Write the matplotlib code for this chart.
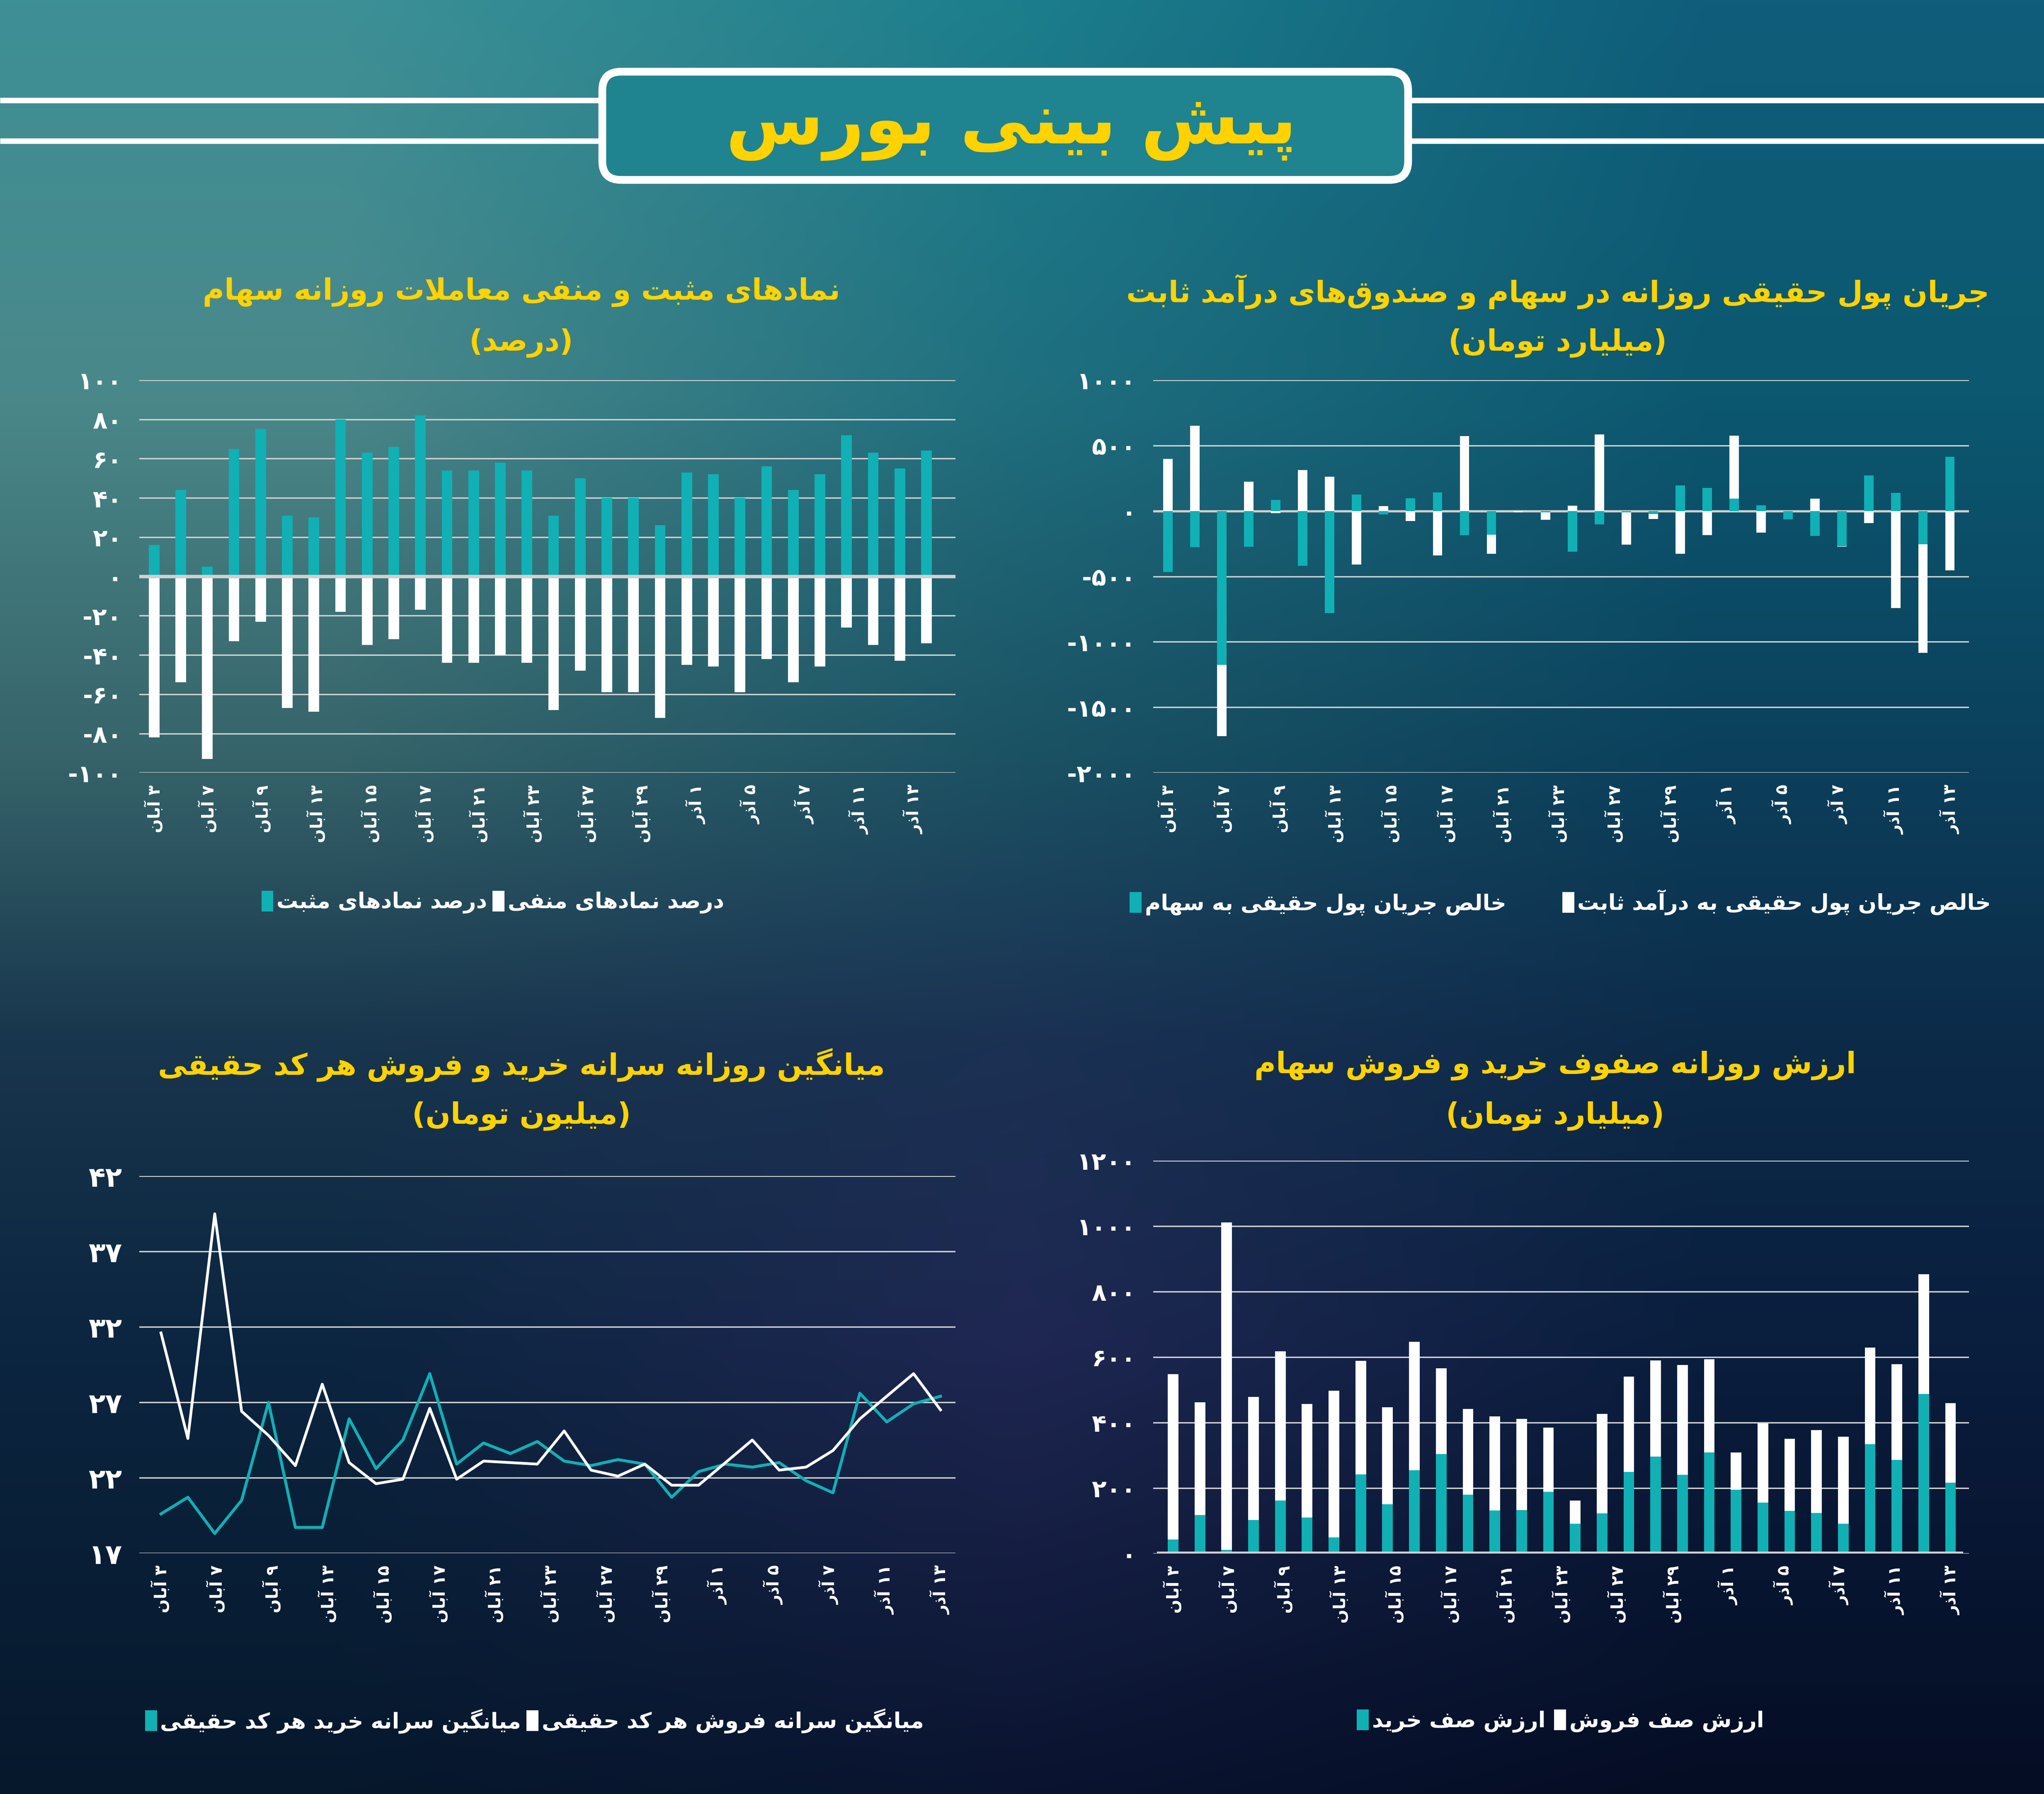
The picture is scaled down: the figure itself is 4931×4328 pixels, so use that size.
import re
import numpy as np
import matplotlib
matplotlib.use('Agg')
import matplotlib.pyplot as plt
from matplotlib.patches import FancyBboxPatch, Patch

# ---------------- data ----------------
tick_days = [3, 7, 9, 13, 15, 17, 21, 23, 27, 29, 1, 5, 7, 11, 13]
tick_months = ['آبان'] * 10 + ['آذر'] * 5

# chart 1: positive / negative symbols (percent)
positive_pct = [16, 44, 5, 65, 75, 31, 30, 80, 63, 66, 82, 54, 54, 58, 54,
                31, 50, 40, 40, 26, 53, 52, 40, 56, 44, 52, 72, 63, 55, 64]
negative_pct = [-82, -54, -93, -33, -23, -67, -69, -18, -35, -32, -17, -44, -44, -40, -44,
                -68, -48, -59, -59, -72, -45, -46, -59, -42, -54, -46, -26, -35, -43, -34]

# chart 2: real money flow (billion toman)
flow_stocks = [-467, -277, -1176, -272, 83, -420, -781, 127, -27, 96, 143, -185, -182, 0, -10,
               -312, -102, -12, -22, 194, 177, 94, 44, -65, -190, -270, 270, 138, -254, 415]
flow_fixed = [397, 652, -543, 225, -18, 312, 261, -408, 38, -78, -339, 571, -146, -11, -58,
              40, 585, -247, -39, -328, -185, 482, -166, 0, 95, -3, -94, -743, -829, -455]

# chart 3: average per-capita buy / sell (million toman)
avg_buy = [19.6, 20.7, 18.3, 20.5, 27.0, 18.7, 18.7, 25.9, 22.6, 24.5, 28.9, 22.9, 24.3, 23.6, 24.4,
           23.1, 22.8, 23.2, 22.9, 20.7, 22.4, 22.9, 22.7, 23.0, 21.8, 21.0, 27.6, 25.7, 26.9, 27.4]
avg_sell = [31.6, 24.6, 39.5, 26.4, 24.8, 22.8, 28.2, 23.0, 21.6, 21.9, 26.6, 21.9, 23.1, 23.0, 22.9,
            25.1, 22.5, 22.1, 22.9, 21.5, 21.5, 23.0, 24.5, 22.5, 22.7, 23.8, 25.9, 27.4, 28.9, 26.5]

# chart 4: buy / sell queue value (billion toman)
queue_buy = [43, 117, 11, 102, 162, 110, 49, 242, 150, 254, 304, 179, 131, 132, 188,
             91, 123, 249, 296, 240, 308, 194, 155, 130, 124, 91, 334, 286, 487, 216]
queue_sell = [505, 345, 1000, 376, 455, 346, 448, 346, 297, 392, 262, 262, 287, 279, 196,
              71, 303, 291, 294, 335, 285, 115, 242, 220, 253, 266, 295, 292, 366, 243]

# ---------------- persian text helpers ----------------
FORMS = {
    'آ': ('\uFE81', '\uFE82', None, None),
    'ا': ('\uFE8D', '\uFE8E', None, None),
    'ب': ('\uFE8F', '\uFE90', '\uFE91', '\uFE92'),
    'پ': ('\uFB56', '\uFB57', '\uFB58', '\uFB59'),
    'ت': ('\uFE95', '\uFE96', '\uFE97', '\uFE98'),
    'ث': ('\uFE99', '\uFE9A', '\uFE9B', '\uFE9C'),
    'ج': ('\uFE9D', '\uFE9E', '\uFE9F', '\uFEA0'),
    'ح': ('\uFEA1', '\uFEA2', '\uFEA3', '\uFEA4'),
    'خ': ('\uFEA5', '\uFEA6', '\uFEA7', '\uFEA8'),
    'د': ('\uFEA9', '\uFEAA', None, None),
    'ذ': ('\uFEAB', '\uFEAC', None, None),
    'ر': ('\uFEAD', '\uFEAE', None, None),
    'ز': ('\uFEAF', '\uFEB0', None, None),
    'ژ': ('\uFB8A', '\uFB8B', None, None),
    'س': ('\uFEB1', '\uFEB2', '\uFEB3', '\uFEB4'),
    'ش': ('\uFEB5', '\uFEB6', '\uFEB7', '\uFEB8'),
    'ص': ('\uFEB9', '\uFEBA', '\uFEBB', '\uFEBC'),
    'ض': ('\uFEBD', '\uFEBE', '\uFEBF', '\uFEC0'),
    'ط': ('\uFEC1', '\uFEC2', '\uFEC3', '\uFEC4'),
    'ظ': ('\uFEC5', '\uFEC6', '\uFEC7', '\uFEC8'),
    'ع': ('\uFEC9', '\uFECA', '\uFECB', '\uFECC'),
    'غ': ('\uFECD', '\uFECE', '\uFECF', '\uFED0'),
    'ف': ('\uFED1', '\uFED2', '\uFED3', '\uFED4'),
    'ق': ('\uFED5', '\uFED6', '\uFED7', '\uFED8'),
    'ک': ('\uFB8E', '\uFB8F', '\uFB90', '\uFB91'),
    'گ': ('\uFB92', '\uFB93', '\uFB94', '\uFB95'),
    'ل': ('\uFEDD', '\uFEDE', '\uFEDF', '\uFEE0'),
    'م': ('\uFEE1', '\uFEE2', '\uFEE3', '\uFEE4'),
    'ن': ('\uFEE5', '\uFEE6', '\uFEE7', '\uFEE8'),
    'و': ('\uFEED', '\uFEEE', None, None),
    'ه': ('\uFEE9', '\uFEEA', '\uFEEB', '\uFEEC'),
    'ی': ('\uFEEF', '\uFEF0', '\uFEF3', '\uFEF4'),
}
LAM_ALEF = {'ا': ('\uFEFB', '\uFEFC'), 'آ': ('\uFEF5', '\uFEF6')}
FA_DIGITS = str.maketrans('0123456789', '۰۱۲۳۴۵۶۷۸۹')
MIRROR = str.maketrans('()', ')(')


def joins_left(ch):
    return ch in FORMS and FORMS[ch][2] is not None


def reshape(text):
    text = text.replace('ي', 'ی').replace('ى', 'ی').replace('ك', 'ک')
    out = []
    i = 0
    while i < len(text):
        ch = text[i]
        if ch not in FORMS:
            out.append(ch)
            i += 1
            continue
        prev = text[i - 1] if i > 0 else ''
        nxt = text[i + 1] if i + 1 < len(text) else ''
        prev_join = joins_left(prev)
        if ch == 'ل' and nxt in LAM_ALEF:
            out.append(LAM_ALEF[nxt][1 if prev_join else 0])
            i += 2
            continue
        next_join = joins_left(ch) and nxt in FORMS
        iso, fin, ini, med = FORMS[ch]
        if prev_join and next_join:
            out.append(med)
        elif prev_join:
            out.append(fin)
        elif next_join:
            out.append(ini)
        else:
            out.append(iso)
        i += 1
    return ''.join(out).replace('\u200c', '')


def rtl(text):
    s = reshape(text)
    runs = re.findall(r'[0-9\u06f0-\u06f9]+|[^0-9\u06f0-\u06f9]+', s)
    vis = []
    for r in reversed(runs):
        if r[0] in '0123456789۰۱۲۳۴۵۶۷۸۹':
            vis.append(r)
        else:
            vis.append(r[::-1].translate(MIRROR))
    return ''.join(vis)


def fa(v):
    return str(v).translate(FA_DIGITS)


tick_labels = [rtl(fa(d) + ' ' + m) for d, m in zip(tick_days, tick_months)]

# ---------------- figure ----------------
W, H, DPI = 4931, 4328, 300
TEAL = '#10b0b4'
YELLOW = '#ffd200'
GRID = '#cfd3d4'
plt.rcParams['font.family'] = ['DejaVu Sans']

fig = plt.figure(figsize=(W / DPI, H / DPI), dpi=DPI)

# background gradient
bg = fig.add_axes([0, 0, 1, 1])
bg.set_xlim(0, W)
bg.set_ylim(0, H)
bg.axis('off')
key_y = [0.0, 0.22, 0.42, 0.58, 0.75, 1.0]
key_cols = [
    ['#3d9096', '#1c7e8c', '#0f5d7a'],
    ['#4a888a', '#1f6f7f', '#0c5870'],
    ['#36646a', '#1b5263', '#0b405c'],
    ['#18364d', '#1b3153', '#0c2b49'],
    ['#0c2540', '#1f2752', '#0a1e3e'],
    ['#06182c', '#0a1430', '#050d24'],
]
rgb = np.array([[matplotlib.colors.to_rgb(c) for c in row] for row in key_cols])
yy = np.linspace(0, 1, 300)
grad = np.zeros((300, 3, 3))
for j in range(3):
    for k in range(3):
        grad[:, j, k] = np.interp(yy, key_y, rgb[:, j, k])
bg.imshow(grad, extent=[0, W, 0, H], aspect='auto', interpolation='bilinear', zorder=0)

# header lines and box
for yline in (H - 242, H - 340):
    bg.plot([0, W], [yline, yline], color='white', lw=3.2, zorder=1, solid_capstyle='butt')
box = FancyBboxPatch((1453, H - 434), 3397 - 1453, 434 - 173,
                     boxstyle='round,pad=0,rounding_size=45',
                     facecolor='#1f8390', edgecolor='white', lw=4.5, zorder=2)
bg.add_patch(box)
bg.text(2440, H - 305, rtl('پیش بینی بورس'), color=YELLOW, fontsize=41, fontweight='bold',
        ha='center', va='center', zorder=3)


def area(l, t, r, b):
    return [l / 1568, 1 - b / 1376, (r - l) / 1568, (b - t) / 1376]


def style(ax, yticks, ysize):
    ax.set_facecolor('none')
    for s in ax.spines.values():
        s.set_visible(False)
    ax.set_yticks(yticks)
    ax.set_yticklabels([fa(v) for v in yticks], fontsize=ysize, fontweight='bold', color='white')
    ax.tick_params(axis='y', length=0, pad=10)
    ax.tick_params(axis='x', length=0, pad=7)
    ax.grid(axis='y', color=GRID, lw=0.8)
    ax.set_axisbelow(True)


def xlabels(ax, n):
    ax.set_xticks(np.linspace(0, n - 1, len(tick_labels)))
    ax.set_xticklabels(tick_labels, rotation=90, fontsize=9.5, fontweight='bold',
                       color='white', va='top', ha='center')


def title(x, y1, y2, line1, line2):
    fig.text(x / 1568, 1 - y1 / 1376, rtl(line1), color=YELLOW, fontsize=17,
             fontweight='bold', ha='center', va='center')
    fig.text(x / 1568, 1 - y2 / 1376, rtl(line2), color=YELLOW, fontsize=17,
             fontweight='bold', ha='center', va='center')


def legend(ax, labels, x, y, spacing):
    handles = [Patch(facecolor=TEAL, edgecolor='none'), Patch(facecolor='white', edgecolor='none')]
    ax.legend(handles, [rtl(t) for t in labels], ncol=2, loc='center',
              bbox_to_anchor=(x / 1568, 1 - y / 1376), bbox_transform=fig.transFigure,
              frameon=False, handlelength=0.55, handleheight=1.1, handletextpad=0.15,
              columnspacing=spacing, labelcolor='white',
              prop={'size': 12.5, 'weight': 'bold'})


# ---- chart 1: positive / negative symbols ----
ax1 = fig.add_axes(area(107, 291.5, 733, 592.7))
x1 = np.arange(len(positive_pct))
ax1.bar(x1, positive_pct, width=0.4, color=TEAL, zorder=2)
ax1.bar(x1, negative_pct, width=0.4, color='white', zorder=2)
ax1.axhline(0, color='#d0d0d0', lw=2.0, zorder=3)
ax1.set_ylim(-100, 100)
ax1.set_xlim(-0.55, len(x1) - 1 + 1.09)
style(ax1, list(range(-100, 101, 20)), 14)
xlabels(ax1, len(x1) - 0.5)
title(400, 224, 263, 'نمادهای مثبت و منفی معاملات روزانه سهام', '(درصد)')
legend(ax1, ['درصد نمادهای مثبت', 'درصد نمادهای منفی'], 378, 692, 0.25)

# ---- chart 2: real money flow ----
ax2 = fig.add_axes(area(884.7, 291.5, 1510.5, 592.7))
x2 = np.arange(len(flow_stocks))
stocks = np.array(flow_stocks)
fixed = np.array(flow_fixed)
fixed_bottom = np.where(np.sign(fixed) == np.sign(stocks), stocks, 0)
ax2.bar(x2, stocks, width=0.35, color=TEAL, zorder=2)
ax2.bar(x2, fixed, bottom=fixed_bottom, width=0.35, color='white', zorder=2)
ax2.axhline(0, color='#d0d0d0', lw=1.3, zorder=1)
ax2.set_ylim(-2000, 1000)
ax2.set_xlim(-0.54, len(x2) - 1 + 0.71)
style(ax2, list(range(-2000, 1001, 500)), 14)
xlabels(ax2, len(x2))
title(1195, 224, 263, 'جریان پول حقیقی روزانه در سهام و صندوق\u200cهای درآمد ثابت', '(میلیارد تومان)')
legend(ax2, ['خالص جریان پول حقیقی به سهام', 'خالص جریان پول حقیقی به درآمد ثابت'], 1197, 692, 2.6)

# ---- chart 3: per-capita buy / sell ----
ax3 = fig.add_axes(area(107, 902.1, 733, 1191.2))
x3 = np.arange(len(avg_buy))
ax3.plot(x3, avg_buy, color=TEAL, lw=1.7, zorder=2)
ax3.plot(x3, avg_sell, color='white', lw=1.6, zorder=3)
ax3.set_ylim(17, 42)
ax3.set_xlim(-0.8, len(x3) - 1 + 0.56)
style(ax3, [17, 22, 27, 32, 37, 42], 16)
xlabels(ax3, len(x3))
title(400, 817, 856, 'میانگین روزانه سرانه خرید و فروش هر کد حقیقی', '(میلیون تومان)')
legend(ax3, ['میانگین سرانه خرید هر کد حقیقی', 'میانگین سرانه فروش هر کد حقیقی'], 410, 1320, 0.25)

# ---- chart 4: queue values ----
ax4 = fig.add_axes(area(884.7, 890.1, 1510.5, 1191.5))
x4 = np.arange(len(queue_buy))
ax4.bar(x4, queue_buy, width=0.4, color=TEAL, zorder=2)
ax4.bar(x4, queue_sell, bottom=queue_buy, width=0.4, color='white', zorder=2)
ax4.axhline(0, xmin=0.007, xmax=0.99, color='#cfcfcf', lw=2.6, zorder=3)
ax4.set_ylim(0, 1200)
ax4.set_xlim(-0.74, len(x4) - 1 + 0.69)
style(ax4, list(range(0, 1201, 200)), 14)
xlabels(ax4, len(x4))
title(1193, 817, 856, 'ارزش روزانه صفوف خرید و فروش سهام', '(میلیارد تومان)')
legend(ax4, ['ارزش صف خرید', 'ارزش صف فروش'], 1197, 1320, 0.4)

fig.savefig('out.png', dpi=DPI)
